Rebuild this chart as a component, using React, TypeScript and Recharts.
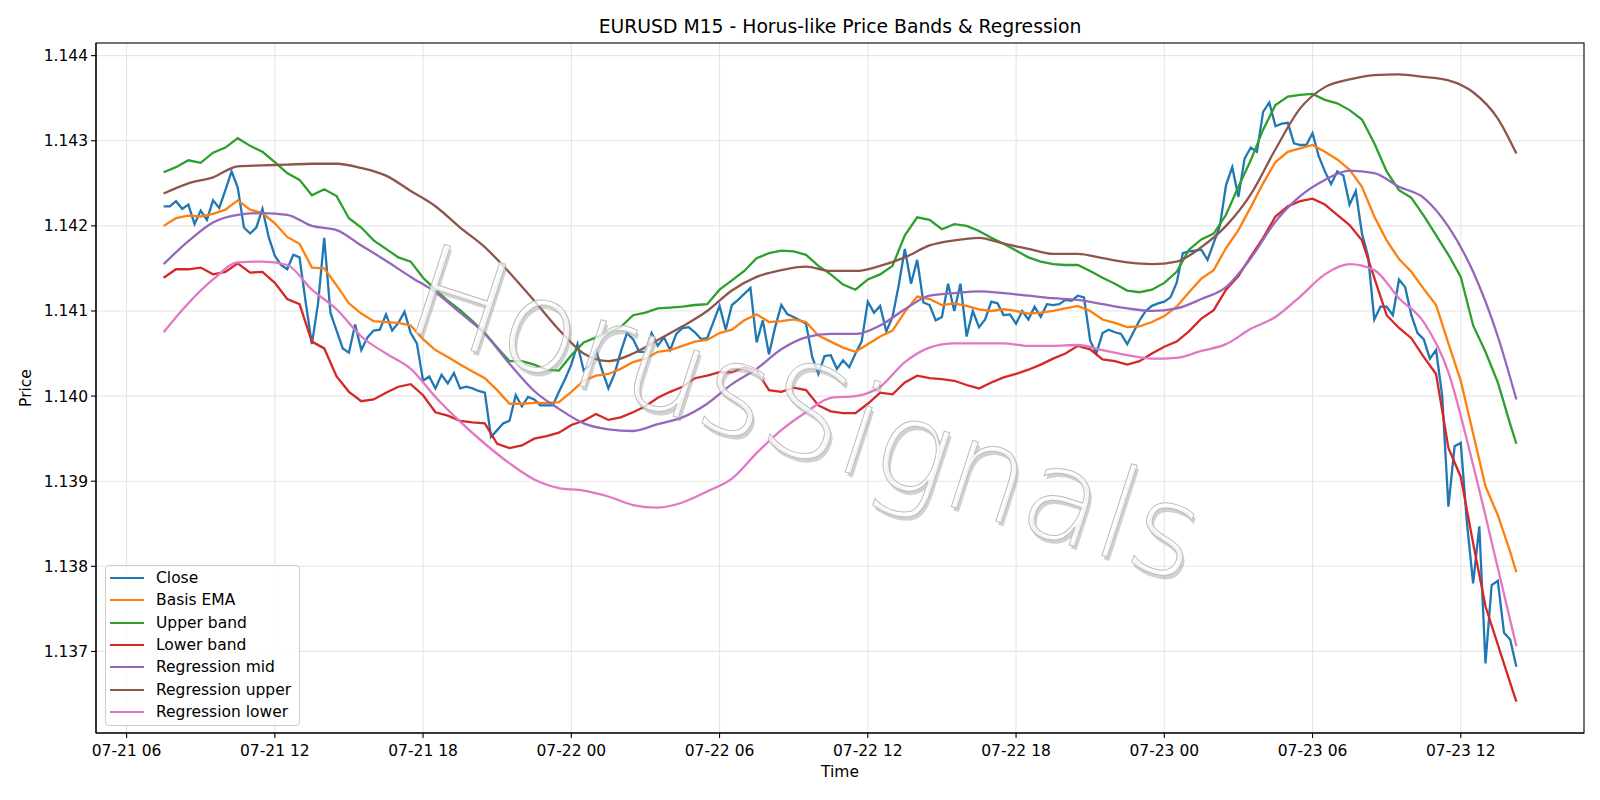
import React from "react";
import { LineChart, Line, XAxis, YAxis, CartesianGrid, Legend } from "recharts";

const FONT = "'DejaVu Sans', sans-serif";
const W = 1600;
const H = 800;
const PLOT = { left: 96, right: 1584, top: 43, bottom: 733 };

// M15 bars, first bar 07-21 07:30 (hours counted from 07-21 00:00)
const START_HOUR = 7.5;
const BAR_HOURS = 0.25;
const X_TICKS = [6, 12, 18, 24, 30, 36, 42, 48, 54, 60];
const Y_TICKS = [1.137, 1.138, 1.139, 1.14, 1.141, 1.142, 1.143, 1.144];

// one value per bar
const CLOSE = [
  1.14223, 1.14223, 1.14229, 1.1422, 1.14225, 1.14202, 1.14218, 1.14207, 1.1423, 1.14221,
  1.14242, 1.14264, 1.14245, 1.14198, 1.14191, 1.14198, 1.1422, 1.14187, 1.14165, 1.14154,
  1.14149, 1.14166, 1.14163, 1.1411, 1.14061, 1.14109, 1.14186, 1.14098, 1.14077, 1.14056,
  1.14051, 1.14084, 1.14054, 1.14069, 1.14077, 1.14078, 1.14096, 1.14077, 1.14086, 1.14099,
  1.14074, 1.14062, 1.14018, 1.14023, 1.14009, 1.14025, 1.14015, 1.14027, 1.14009, 1.14011,
  1.14009, 1.14006, 1.14004, 1.13952, 1.1396, 1.13968, 1.13971, 1.14001, 1.13988, 1.13999,
  1.13996, 1.13989, 1.13989, 1.13989, 1.14005, 1.1402, 1.14037, 1.14061, 1.1403, 1.14036,
  1.14054, 1.1403, 1.14009, 1.14026, 1.14052, 1.14074, 1.14067, 1.14052, 1.14052, 1.14074,
  1.14059, 1.14069, 1.14054, 1.14073, 1.1408, 1.14081, 1.14075, 1.14067, 1.14068, 1.14087,
  1.14106, 1.14078, 1.14107, 1.14113, 1.1412, 1.14127, 1.14063, 1.14089, 1.14049, 1.14081,
  1.14107, 1.14096, 1.14093, 1.14089, 1.14085, 1.14046, 1.14026, 1.14047, 1.14048, 1.14032,
  1.14042, 1.14034, 1.1405, 1.14064, 1.14111, 1.14098, 1.14106, 1.14076, 1.14093, 1.1413,
  1.14173, 1.14132, 1.1416, 1.1411, 1.14107, 1.14089, 1.14093, 1.14132, 1.141, 1.14132,
  1.1407, 1.141, 1.14081, 1.1409, 1.14111, 1.14109, 1.14095, 1.14096, 1.14085, 1.141,
  1.1409, 1.14105, 1.14093, 1.14108, 1.14107, 1.14108, 1.14113, 1.14112, 1.14118, 1.14116,
  1.14065, 1.1405, 1.14074, 1.14078, 1.14075, 1.14073, 1.14061, 1.14075, 1.14089, 1.141,
  1.14106, 1.14109, 1.14111, 1.14116, 1.14133, 1.14168, 1.1417, 1.14171, 1.14172, 1.1416,
  1.1418, 1.142, 1.14248, 1.14269, 1.14234, 1.14279, 1.14292, 1.14287, 1.14334, 1.14345,
  1.14317, 1.1432, 1.14321, 1.14297, 1.14295, 1.14295, 1.14309, 1.14282, 1.14264, 1.14249,
  1.14264, 1.14259, 1.14225, 1.14241, 1.14191, 1.14164, 1.1409, 1.14105, 1.14105, 1.14095,
  1.14137, 1.14128, 1.14095, 1.14074, 1.14067, 1.14044, 1.14054, 1.14, 1.1387, 1.13941,
  1.13945, 1.13851, 1.1378, 1.13847, 1.13686, 1.13778, 1.13783, 1.13722, 1.13714, 1.13682,
];

// every 2nd bar, the last entry is the final bar
const BASIS_EMA = [
  1.142, 1.14209, 1.14212, 1.14211, 1.14214, 1.14219, 1.1423, 1.14219, 1.14215, 1.14203,
  1.14187, 1.14179, 1.14151, 1.1415, 1.1413, 1.14109, 1.14097, 1.14088, 1.14087, 1.14086,
  1.14083, 1.14067, 1.14054, 1.14046, 1.14037, 1.14029, 1.14021, 1.14007, 1.13991, 1.13991,
  1.13992, 1.13992, 1.13993, 1.14005, 1.14018, 1.14024, 1.14026, 1.14032, 1.1404, 1.14044,
  1.14052, 1.14054, 1.14059, 1.14064, 1.14066, 1.14074, 1.14078, 1.14089, 1.14096, 1.14087,
  1.14088, 1.1409, 1.14087, 1.14071, 1.14064, 1.14057, 1.14052, 1.14061, 1.1407, 1.14077,
  1.14099, 1.14117, 1.14114, 1.14107, 1.14109, 1.14106, 1.14102, 1.141, 1.14102, 1.141,
  1.14097, 1.14098, 1.141, 1.14103, 1.14106, 1.141, 1.1409, 1.14086, 1.14081, 1.14082,
  1.14087, 1.14094, 1.14105, 1.14122, 1.14138, 1.14148, 1.14174, 1.14195, 1.14222, 1.1425,
  1.14275, 1.14287, 1.14291, 1.14295, 1.14287, 1.14278, 1.14266, 1.14246, 1.14211, 1.14183,
  1.14161, 1.14146, 1.14126, 1.14107, 1.14062, 1.14018, 1.13956, 1.13894, 1.1386, 1.13817,
  1.13793,
];

const UPPER_BAND = [
  1.14263, 1.14269, 1.14277, 1.14274, 1.14286, 1.14292, 1.14303, 1.14294, 1.14287, 1.14275,
  1.14262, 1.14254, 1.14236, 1.14243, 1.14235, 1.14209, 1.14198, 1.14183, 1.14173, 1.14163,
  1.14158, 1.14139, 1.14125, 1.14112, 1.14101, 1.14088, 1.14074, 1.14057, 1.14041, 1.14041,
  1.14037, 1.14031, 1.1403, 1.14048, 1.14063, 1.14069, 1.14075, 1.14081, 1.14095, 1.14098,
  1.14103, 1.14104, 1.14105, 1.14107, 1.14108, 1.14125, 1.14136, 1.14147, 1.14162, 1.14168,
  1.14171, 1.1417, 1.14166, 1.14153, 1.14143, 1.14131, 1.14125, 1.14137, 1.14143, 1.14153,
  1.14189, 1.1421, 1.14207, 1.14196, 1.14202, 1.142, 1.14194, 1.14186, 1.14179, 1.14171,
  1.14163, 1.14158, 1.14155, 1.14154, 1.14154, 1.14147, 1.14139, 1.14132, 1.14124, 1.14122,
  1.14125, 1.14133, 1.14146, 1.14172, 1.14184, 1.14191, 1.14213, 1.14246, 1.14277, 1.14313,
  1.14342, 1.14352, 1.14354, 1.14355, 1.14348, 1.14344, 1.14336, 1.14325, 1.14297, 1.14264,
  1.14242, 1.14233, 1.14212, 1.14189, 1.14166, 1.1414, 1.14083, 1.14052, 1.14016, 1.13967,
  1.13944,
];

const LOWER_BAND = [
  1.14139, 1.14149, 1.14149, 1.14151, 1.14143, 1.14146, 1.14156, 1.14145, 1.14146, 1.14133,
  1.14114, 1.14108, 1.14064, 1.14056, 1.14023, 1.14005, 1.13994, 1.13996, 1.14004, 1.14011,
  1.14014, 1.14001, 1.13981, 1.13977, 1.13971, 1.13969, 1.13968, 1.13944, 1.13939, 1.13942,
  1.1395, 1.13953, 1.13957, 1.13966, 1.13971, 1.13979, 1.13972, 1.13975, 1.13981, 1.13988,
  1.13998, 1.14005, 1.14011, 1.14021, 1.14024, 1.14028, 1.14028, 1.14034, 1.1403, 1.14007,
  1.14005, 1.1401, 1.14007, 1.13989, 1.13982, 1.1398, 1.1398, 1.13991, 1.14004, 1.14002,
  1.14016, 1.14024, 1.14021, 1.1402, 1.14018, 1.14013, 1.14009, 1.14016, 1.14022, 1.14026,
  1.14031, 1.14037, 1.14044, 1.1405, 1.14059, 1.14055, 1.14043, 1.14041, 1.14037, 1.14041,
  1.1405, 1.14058, 1.14064, 1.14076, 1.14091, 1.14101, 1.14125, 1.14141, 1.14164, 1.14186,
  1.14211, 1.14223, 1.14229, 1.14232, 1.14225, 1.14213, 1.14201, 1.14183, 1.14139, 1.14095,
  1.1408, 1.14068, 1.14046, 1.14026, 1.13939, 1.13905, 1.13827, 1.13753, 1.13708, 1.13663,
  1.13641,
];

// every 4th bar, the last entry is the final bar
const REG_MID = [
  1.14155, 1.14182, 1.14204, 1.14213, 1.14215, 1.14213, 1.142, 1.14195, 1.14177, 1.14159,
  1.1414, 1.14122, 1.14098, 1.14073, 1.14038, 1.14006, 1.13985, 1.13968, 1.13961, 1.13959,
  1.13967, 1.13975, 1.13991, 1.14014, 1.14032, 1.14055, 1.14069, 1.14073, 1.14073, 1.14083,
  1.14102, 1.14118, 1.14121, 1.14123, 1.14121, 1.14118, 1.14115, 1.14113, 1.14108, 1.14103,
  1.141, 1.14103, 1.14114, 1.14128, 1.14162, 1.14205, 1.14235, 1.14254, 1.14265, 1.14262,
  1.14246, 1.14233, 1.14199, 1.14146, 1.1407,
  1.13996,
];

const REG_UPPER = [
  1.14238, 1.1425, 1.14257, 1.1427, 1.14271, 1.14272, 1.14273, 1.14273, 1.14268, 1.14259,
  1.14241, 1.14223, 1.14198, 1.14175, 1.14145, 1.14112, 1.14078, 1.1405, 1.14041, 1.1405,
  1.14066, 1.14082, 1.141, 1.14124, 1.1414, 1.14148, 1.14152, 1.14147, 1.14147, 1.14153,
  1.14163, 1.14177, 1.14183, 1.14186, 1.14179, 1.14173, 1.14167, 1.14167, 1.14162, 1.14157,
  1.14155, 1.14158, 1.14175, 1.142, 1.14237, 1.1429, 1.14338, 1.14363, 1.14372, 1.14377,
  1.14378, 1.14375, 1.14371, 1.14357, 1.14326,
  1.14285,
];

const REG_LOWER = [
  1.14075, 1.14109, 1.14137, 1.14157, 1.14158, 1.14154, 1.14125, 1.14102, 1.1407, 1.1405,
  1.14032, 1.13999, 1.1397, 1.13944, 1.13921, 1.13902, 1.13892, 1.13889, 1.13882, 1.13872,
  1.13869, 1.13875, 1.13888, 1.13903, 1.13933, 1.1396, 1.13981, 1.13998, 1.14, 1.14011,
  1.1404, 1.14057, 1.14062, 1.14062, 1.14062, 1.14059, 1.14059, 1.1406, 1.14054, 1.14048,
  1.14044, 1.14045, 1.14053, 1.14061, 1.14079, 1.14093, 1.14117, 1.14143, 1.14155, 1.14148,
  1.14115, 1.14087, 1.14028, 1.13919, 1.13798,
  1.13706,
];

const SERIES = [
  { key: "close", name: "Close", color: "#1f77b4", values: CLOSE, step: 1, curve: "linear" },
  { key: "ema", name: "Basis EMA", color: "#ff7f0e", values: BASIS_EMA, step: 2, curve: "linear" },
  { key: "upper", name: "Upper band", color: "#2ca02c", values: UPPER_BAND, step: 2, curve: "linear" },
  { key: "lower", name: "Lower band", color: "#d62728", values: LOWER_BAND, step: 2, curve: "linear" },
  { key: "regMid", name: "Regression mid", color: "#9467bd", values: REG_MID, step: 4, curve: "monotone" },
  { key: "regUpper", name: "Regression upper", color: "#8c564b", values: REG_UPPER, step: 4, curve: "monotone" },
  { key: "regLower", name: "Regression lower", color: "#e377c2", values: REG_LOWER, step: 4, curve: "monotone" },
] as const;

const N = CLOSE.length;

function valueAt(values: readonly number[], step: number, i: number) {
  if (i === N - 1) return values[values.length - 1];
  return i % step === 0 ? values[i / step] : null;
}

const rows = CLOSE.map((_, i) => {
  const row: Record<string, number | null> = { t: START_HOUR + i * BAR_HOURS };
  SERIES.forEach((s) => {
    row[s.key] = valueAt(s.values, s.step, i);
  });
  return row;
});

// matplotlib-style 5% margins
const spanX = (N - 1) * BAR_HOURS;
const X_DOMAIN = [START_HOUR - spanX * 0.05, START_HOUR + spanX * 1.05];
const allValues = SERIES.flatMap((s) => [...s.values]);
const yLo = Math.min(...allValues);
const yHi = Math.max(...allValues);
const Y_DOMAIN = [yLo - (yHi - yLo) * 0.05, yHi + (yHi - yLo) * 0.05];

function fmtTime(h: number) {
  const day = 21 + Math.floor(h / 24);
  const hour = h % 24;
  return `07-${day} ${String(hour).padStart(2, "0")}`;
}

const ORDER = SERIES.map((s) => s.name as string);

function LegendBox({ payload }: any) {
  const items = [...(payload ?? [])].sort((a: any, b: any) => ORDER.indexOf(a.value) - ORDER.indexOf(b.value));
  return (
    <div
      style={{
        border: "1px solid #cccccc",
        borderRadius: 4,
        background: "rgba(255,255,255,0.8)",
        padding: "1px 6px 2px 4px",
        width: 195,
        boxSizing: "border-box",
        fontFamily: FONT,
        fontSize: 15.5,
        color: "#000",
      }}
    >
      {items.map((p: any) => (
        <div key={p.value} style={{ display: "flex", alignItems: "center", height: 22.3 }}>
          <span style={{ display: "inline-block", width: 34, height: 0, borderTop: `2.3px solid ${p.color}`, marginRight: 12 }} />
          <span style={{ whiteSpace: "nowrap" }}>{p.value}</span>
        </div>
      ))}
    </div>
  );
}

export default function App() {
  const midX = (PLOT.left + PLOT.right) / 2;
  const midY = (PLOT.top + PLOT.bottom) / 2;
  const tickStyle = { fill: "#000", fontSize: 15.5, fontFamily: FONT };
  return (
    <div style={{ position: "absolute", left: 0, top: 0, width: W, height: H, background: "#fff" }}>
      <LineChart
        width={W}
        height={H}
        data={rows}
        margin={{ top: PLOT.top, right: W - PLOT.right, bottom: 0, left: 0 }}
      >
        <CartesianGrid stroke="#e6e6e6" strokeWidth={1.1} syncWithTicks />
        <XAxis
          dataKey="t"
          type="number"
          domain={X_DOMAIN}
          ticks={X_TICKS}
          interval={0}
          tickFormatter={fmtTime}
          allowDataOverflow
          height={H - PLOT.bottom}
          stroke="#000"
          strokeWidth={1.1}
          tickSize={5}
          tickMargin={7}
          tick={tickStyle}
        />
        <YAxis
          type="number"
          domain={Y_DOMAIN}
          ticks={Y_TICKS}
          interval={0}
          tickFormatter={(v: number) => v.toFixed(3)}
          allowDataOverflow
          width={PLOT.left}
          stroke="#000"
          strokeWidth={1.1}
          tickSize={5}
          tickMargin={3}
          tick={tickStyle}
        />
        {SERIES.map((s) => (
          <Line
            key={s.key}
            dataKey={s.key}
            name={s.name}
            type={s.curve}
            stroke={s.color}
            strokeWidth={2.3}
            dot={false}
            activeDot={false}
            connectNulls
            isAnimationActive={false}
          />
        ))}
        <Legend
          layout="vertical"
          align="center"
          verticalAlign="middle"
          content={<LegendBox />}
          wrapperStyle={{ left: 105, top: 565, width: 195 }}
        />
      </LineChart>
      <svg
        width={W}
        height={H}
        style={{ position: "absolute", left: 0, top: 0, pointerEvents: "none" }}
        fontFamily={FONT}
      >
        <g transform={`translate(793 455) rotate(18)`} fontSize={127} fontWeight={200}>
          <text x={3} y={3} textAnchor="middle" fill="#9a9a9a" fillOpacity={0.45}>
            HorusSignals
          </text>
          <text x={0} y={0} textAnchor="middle" fill="#ffffff" fillOpacity={0.75} stroke="#bdbdbd" strokeWidth={1}>
            HorusSignals
          </text>
        </g>
        <rect
          x={PLOT.left}
          y={PLOT.top}
          width={PLOT.right - PLOT.left}
          height={PLOT.bottom - PLOT.top}
          fill="none"
          stroke="#000"
          strokeWidth={1.1}
        />
        <text x={midX} y={33} textAnchor="middle" fontSize={18.8} fill="#000">
          {"EURUSD M15 - Horus-like Price Bands & Regression"}
        </text>
        <text x={midX} y={777} textAnchor="middle" fontSize={15.5} fill="#000">
          Time
        </text>
        <text
          x={26}
          y={midY}
          transform={`rotate(-90 26 ${midY})`}
          textAnchor="middle"
          dominantBaseline="central"
          fontSize={15.5}
          fill="#000"
        >
          Price
        </text>
      </svg>
    </div>
  );
}
